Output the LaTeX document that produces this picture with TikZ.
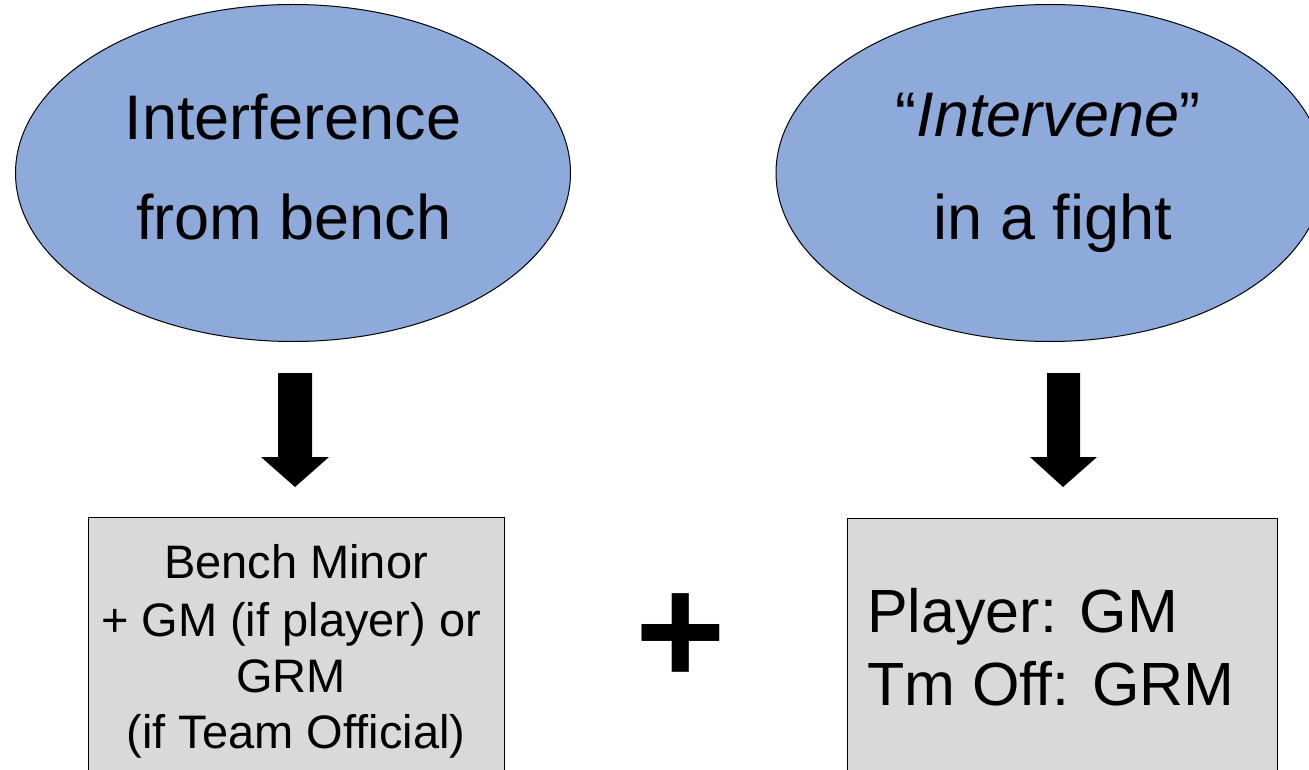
\documentclass[tikz,border=0pt]{standalone}
\usepackage{fontspec}
\setmainfont{Liberation Sans}
\usetikzlibrary{shapes.geometric}
\definecolor{ellblue}{HTML}{8EAADB}
\definecolor{boxgray}{HTML}{D9D9D9}
\tikzset{
  oval/.style={ellipse, draw=black, line width=1pt, fill=ellblue, inner sep=0pt},
  resbox/.style={rectangle, draw=black, line width=1.2pt, fill=boxgray, inner sep=0pt, anchor=north west},
  bigtxt/.style={anchor=base, inner sep=0pt, font=\fontsize{63}{75}\selectfont},
  boxtxt/.style={anchor=base, inner sep=0pt, font=\fontsize{47}{56}\selectfont},
  boxtxtb/.style={anchor=base west, inner sep=0pt, font=\fontsize{61}{73}\selectfont},
  blockarrow/.style={fill=black}
}
\begin{document}
\begin{tikzpicture}[x=1pt,y=-1pt]
\useasboundingbox (0,0) rectangle (1309,770);
\clip (0,0) rectangle (1309,770);
\fill[white] (0,0) rectangle (1309,770);
% ellipses
\node[oval, minimum width=555pt, minimum height=337pt] (e1) at (293,173) {};
\node[oval, minimum width=548pt, minimum height=337pt] (e2) at (1050,173) {};
\node[bigtxt] (e1a) at (293,140) {Interference};
\node[bigtxt] (e1b) at (294,240) {from bench};
\node[bigtxt] (e2a) at (1048,137) {\char"201C\textit{Intervene}\char"201D};
\node[bigtxt] (e2b) at (1053,240) {in a fight};
% block arrows
\fill[blockarrow] (278,373) -- (312,373) -- (312,457) -- (329,457) -- (295,487) -- (261,457) -- (278,457) -- cycle;
\fill[blockarrow] (1047,373) -- (1080,373) -- (1080,457) -- (1097,457) -- (1063,487) -- (1030,457) -- (1047,457) -- cycle;
% boxes
\node[resbox, minimum width=416pt, minimum height=290pt] (b1) at (88,517) {};
\node[resbox, minimum width=430pt, minimum height=290pt] (b2) at (847,518) {};
\node[boxtxt] (b1a) at (296,578) {Bench Minor};
\node[boxtxt] (b1b) at (291,636) {+ GM (if player) or};
\node[boxtxt] (b1c) at (291,692) {GRM};
\node[boxtxt] (b1d) at (296,748) {(if Team Official)};
\node[boxtxtb] (b2a) at (867,632) {Player: GM};
\node[boxtxtb] (b2b) at (867,705) {Tm Off: GRM};
% plus
\node[anchor=base, inner sep=0pt, font=\fontsize{155}{155}\selectfont\bfseries] (plus) at (681,684) {+};
\end{tikzpicture}
\end{document}
